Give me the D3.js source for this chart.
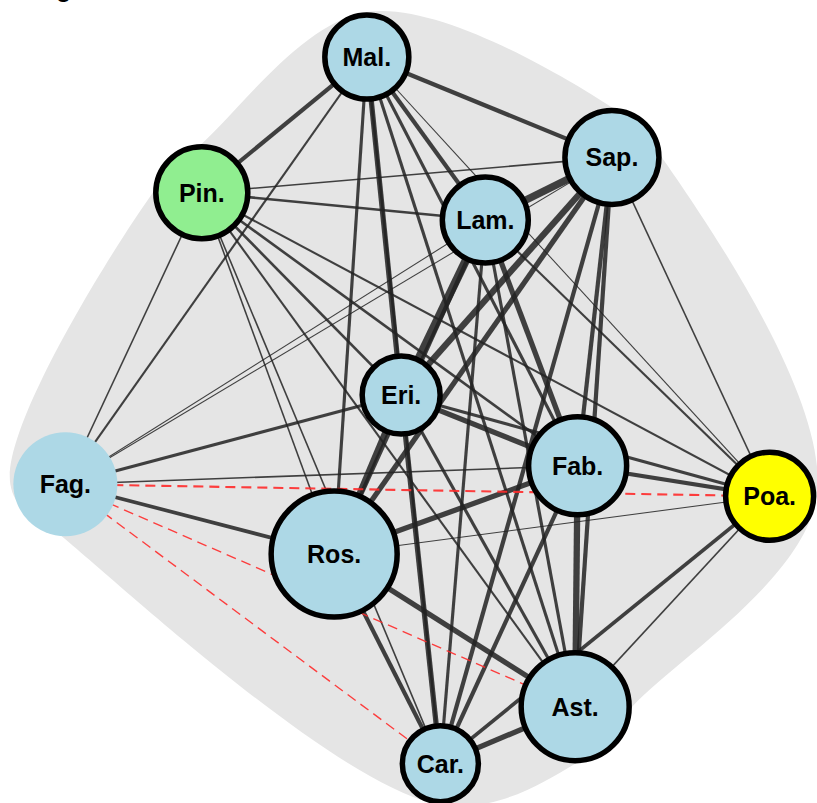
<!DOCTYPE html>
<html lang="en">

<head>
  <meta charset="UTF-8">
  <script src="https://d3js.org/d3.v7.min.js" charset="utf-8"></script>
  <title>Network</title>
  <style>
    body { margin: 0; background: #fff; }
    svg { display: block; }
  </style>
</head>

<body>
  <script type="text/javascript">

    const w = 817;
    const h = 803;

    // nodes: layout coordinates (0-100), size value, colour group, outline flag
    const nodeNames = ["Mal.", "Sap.", "Lam.", "Pin.", "Eri.", "Fag.", "Ros.", "Fab.", "Poa.", "Ast.", "Car."];
    const nodeX = [44.9, 74.9, 59.4, 24.7, 49.1, 8.0, 40.9, 70.7, 94.2, 70.4, 53.9];
    const nodeY = [7.1, 19.6, 27.4, 24.0, 49.2, 60.3, 69.0, 58.0, 61.8, 88.0, 95.1];
    const nodeSize = [36.0, 45.1, 37.7, 43.2, 31.0, 55.2, 81.0, 49.0, 39.5, 59.5, 29.5];
    const nodeGroup = ["dicot", "dicot", "dicot", "conifer", "dicot", "dicot", "dicot", "dicot", "grass", "dicot", "dicot"];
    const nodeOutlined = [true, true, true, true, true, false, true, true, true, true, true];

    // edges: source / target index into nodeNames, weight (negative = red dashed)
    const edgeSource = [
      0, 0, 0, 0, 0, 0, 0, 0, 0, 0,
      1, 1, 1, 1, 1, 1, 1, 1, 1,
      2, 2, 2, 2, 2, 2, 2, 2,
      3, 3, 3, 3, 3, 3, 3,
      4, 4, 4, 4, 4, 4,
      5, 5, 5, 5, 5,
      6, 6, 6, 6,
      7, 7, 7,
      8, 8,
      9
    ];
    const edgeTarget = [
      1, 3, 5, 6, 4, 2, 7, 9, 8, 10,
      3, 2, 5, 4, 6, 10, 7, 9, 8,
      3, 5, 4, 6, 7, 9, 10, 8,
      5, 4, 7, 8, 9, 6, 10,
      5, 6, 10, 7, 9, 8,
      6, 7, 8, 9, 10,
      7, 9, 10, 8,
      8, 9, 10,
      9, 10,
      10
    ];
    const edgeWeight = [
      0.40, 0.40, 0.20, 0.30, 0.50, 0.40, 0.30, 0.30, 0.10, 0.25,
      0.15, 0.70, 0.10, 0.60, 0.50, 0.40, 0.40, 0.40, 0.15,
      0.25, 0.10, 0.80, 0.40, 0.50, 0.30, 0.30, 0.20,
      0.15, 0.25, 0.25, 0.20, 0.20, 0.15, 0.15,
      0.30, 0.60, 0.50, 0.50, 0.30, 0.30,
      0.35, 0.15, -0.20, -0.13, -0.13,
      0.50, 0.50, 0.40, 0.10,
      0.40, 0.60, 0.40,
      0.15, 0.35,
      0.50
    ];

    var x = d3.scaleLinear().domain([0, 100]).range([0, w]);
    var y = d3.scaleLinear().domain([0, 100]).range([0, h]);
    var r = d3.scaleSqrt().domain([0, 100]).range([0, 70]);
    var width = d3.scaleLinear().domain([0, 1]).range([0, 10.5]);
    var color = d3.scaleOrdinal()
      .domain(["dicot", "conifer", "grass"])
      .range(["#add8e6", "#90ee90", "#ffff00"]);

    var nodes = nodeNames.map(function (d, i) {
      return { name: d, x: x(nodeX[i]), y: y(nodeY[i]), r: r(nodeSize[i]), group: nodeGroup[i], outlined: nodeOutlined[i] };
    });
    var links = edgeSource.map(function (s, i) {
      return { source: nodes[s], target: nodes[edgeTarget[i]], weight: edgeWeight[i] };
    });

    var svg = d3.select("body")
      .append("svg")
      .attr("width", w)
      .attr("height", h);

    // grey hull behind the network: hull of 4 points per node, smoothed
    var pad = 3;
    var pts = [];
    nodes.forEach(function (d) {
      var rr = d.r + pad;
      pts.push([d.x, d.y - rr], [d.x + rr, d.y], [d.x, d.y + rr], [d.x - rr, d.y]);
    });
    var hull = d3.polygonHull(pts);
    svg.append("path")
      .attr("d", d3.line().curve(d3.curveCatmullRomClosed.alpha(0.5))(hull))
      .attr("fill", "#e5e5e5");

    // cut-off title at the very top
    svg.append("text")
      .attr("x", 56)
      .attr("y", -3)
      .attr("font-family", "Liberation Sans, Arial, sans-serif")
      .attr("font-weight", "bold")
      .attr("font-size", "25px")
      .text("g");

    svg.append("g")
      .selectAll("line")
      .data(links.filter(function (d) { return d.weight > 0; }))
      .enter()
      .append("line")
      .attr("x1", function (d) { return d.source.x; })
      .attr("y1", function (d) { return d.source.y; })
      .attr("x2", function (d) { return d.target.x; })
      .attr("y2", function (d) { return d.target.y; })
      .attr("stroke", "#222")
      .attr("stroke-opacity", 0.85)
      .attr("stroke-width", function (d) { return width(d.weight); });

    svg.append("g")
      .selectAll("line")
      .data(links.filter(function (d) { return d.weight < 0; }))
      .enter()
      .append("line")
      .attr("x1", function (d) { return d.source.x; })
      .attr("y1", function (d) { return d.source.y; })
      .attr("x2", function (d) { return d.target.x; })
      .attr("y2", function (d) { return d.target.y; })
      .attr("stroke", "#ff2a2a")
      .attr("stroke-opacity", 0.9)
      .attr("stroke-dasharray", "10,6")
      .attr("stroke-width", function (d) { return width(-d.weight); });

    var node = svg.append("g")
      .selectAll("g")
      .data(nodes)
      .enter()
      .append("g")
      .attr("transform", function (d) { return "translate(" + d.x + "," + d.y + ")"; });

    node.append("circle")
      .attr("r", function (d) { return d.r; })
      .attr("fill", function (d) { return color(d.group); })
      .attr("stroke", function (d) { return d.outlined ? "#000" : "none"; })
      .attr("stroke-width", 5.5);

    node.append("text")
      .text(function (d) { return d.name; })
      .attr("text-anchor", "middle")
      .attr("dy", "0.36em")
      .attr("font-family", "Liberation Sans, Arial, sans-serif")
      .attr("font-weight", "bold")
      .attr("font-size", "25px")
      .attr("fill", "#000");

  </script>
</body>

</html>
